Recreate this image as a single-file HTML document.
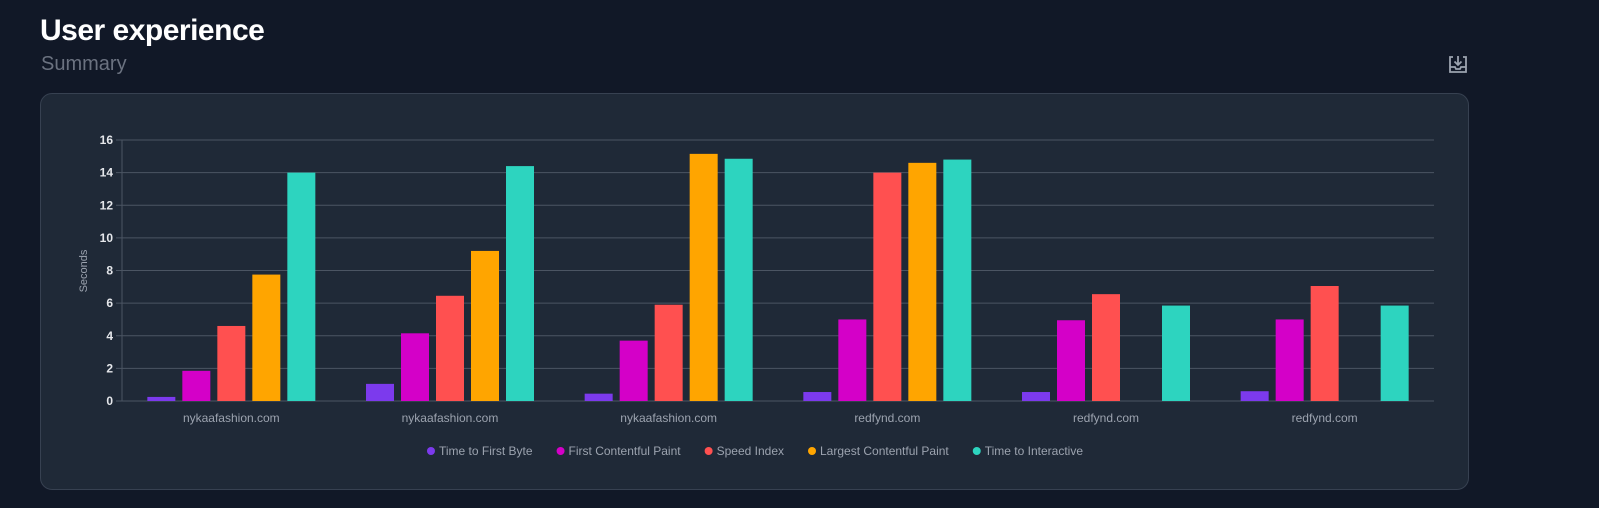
<!DOCTYPE html>
<html><head><meta charset="utf-8"><style>
body{margin:0;width:1599px;height:508px;background:#111827;font-family:"Liberation Sans",sans-serif;overflow:hidden;position:relative}
h1{position:absolute;left:40px;top:14px;margin:0;font-size:30px;font-weight:bold;color:#fff;letter-spacing:-0.5px}
.sub{position:absolute;left:41px;top:53px;font-size:20px;color:#6b7280}
.card{position:absolute;left:40px;top:93px;width:1429px;height:397px;background:#1f2937;border:1px solid #374151;border-radius:12px;box-sizing:border-box}
svg text{font-family:"Liberation Sans",sans-serif}
</style></head><body>
<h1>User experience</h1>
<div class="sub">Summary</div>
<svg style="position:absolute;left:1447px;top:54px" width="22" height="22" viewBox="0 0 22 22" fill="none" stroke="#9ca3af" stroke-width="1.8"><path d="M6 3H3v15h16V3h-3"/><path d="M11 2v9M7.5 7.5L11 11l3.5-3.5"/><path d="M3 13h5l1 2h4l1-2h5"/></svg>
<div class="card"></div>
<svg id="chart" width="1599" height="508" style="position:absolute;left:0;top:0"></svg>
<script>
const categories=["nykaafashion.com","nykaafashion.com","nykaafashion.com","redfynd.com","redfynd.com","redfynd.com"];
const seriesNames=["Time to First Byte","First Contentful Paint","Speed Index","Largest Contentful Paint","Time to Interactive"];
const ttfb=[0.25,1.05,0.45,0.55,0.55,0.6];
const fcp=[1.85,4.15,3.7,5.0,4.95,5.0];
const si=[4.6,6.45,5.9,14.0,6.55,7.05];
const lcp=[7.75,9.2,15.15,14.6,0,0];
const tti=[14.0,14.4,14.85,14.8,5.85,5.85];
const yTicks=[0,2,4,6,8,10,12,14,16];
const colors=["#7c3aed","#d400c8","#ff5050","#ffa500","#2dd4bf"];
const series=[ttfb,fcp,si,lcp,tti];
const svg=document.getElementById('chart');const NS="http://www.w3.org/2000/svg";
const x0=122,x1=1434,yTop=140,yBot=401,ymax=16;
const y=v=>yBot-(v/ymax)*(yBot-yTop);
const gw=(x1-x0)/categories.length,bw=28,step=35;
function mk(t,a,txt,p){const e=document.createElementNS(NS,t);for(const k in a)e.setAttribute(k,a[k]);if(txt!=null)e.textContent=txt;(p||svg).appendChild(e);return e;}
yTicks.forEach(t=>{
 const l=mk('line',{x1:x0-6,x2:x1,y1:y(t),y2:y(t),stroke:'#4b5563','stroke-width':1});
 
 
 const tx=mk('text',{x:x0-9,y:y(t)+4,'text-anchor':'end','font-size':12,'font-weight':'bold',fill:'#e5e7eb'},t);
 
 
});
const ax=mk('line',{x1:x0,x2:x0,y1:yTop,y2:yBot,stroke:'#4b5563'});


const yt=mk('text',{x:87,y:271,'text-anchor':'middle','font-size':11,fill:'#9ca3af',transform:'rotate(-90 87 271)'},'Seconds');


categories.forEach((c,i)=>{
 const cx=x0+gw*(i+0.5);
 series.forEach((s,j)=>{
  const v=s[i];if(v<=0)return;
  const bx=cx-2*step-bw/2+j*step;
  const r=mk('rect',{x:bx,y:y(v),width:bw,height:yBot-y(v),fill:colors[j]});
  
  
 });
 const t=mk('text',{x:cx,y:422,'text-anchor':'middle','font-size':12,fill:'#9ca3af'},c);
 
 
});
const items=[];let total=0;const gap=24;
seriesNames.forEach((n,j)=>{
 const g=document.createElementNS(NS,'g');svg.appendChild(g);
 
 
 const c=mk('circle',{cx:0,cy:451,r:4,fill:colors[j]},null,g);
 const t=mk('text',{x:0,y:455,'font-size':12,fill:'#9ca3af'},n,g);
 const w=t.getComputedTextLength();
 items.push({c,t,w});total+=12+w;
});
total+=gap*(items.length-1);
let lxp=755-total/2;
items.forEach(it=>{it.c.setAttribute('cx',lxp+4);it.t.setAttribute('x',lxp+12);lxp+=12+it.w+gap;});
</script>
</body></html>
